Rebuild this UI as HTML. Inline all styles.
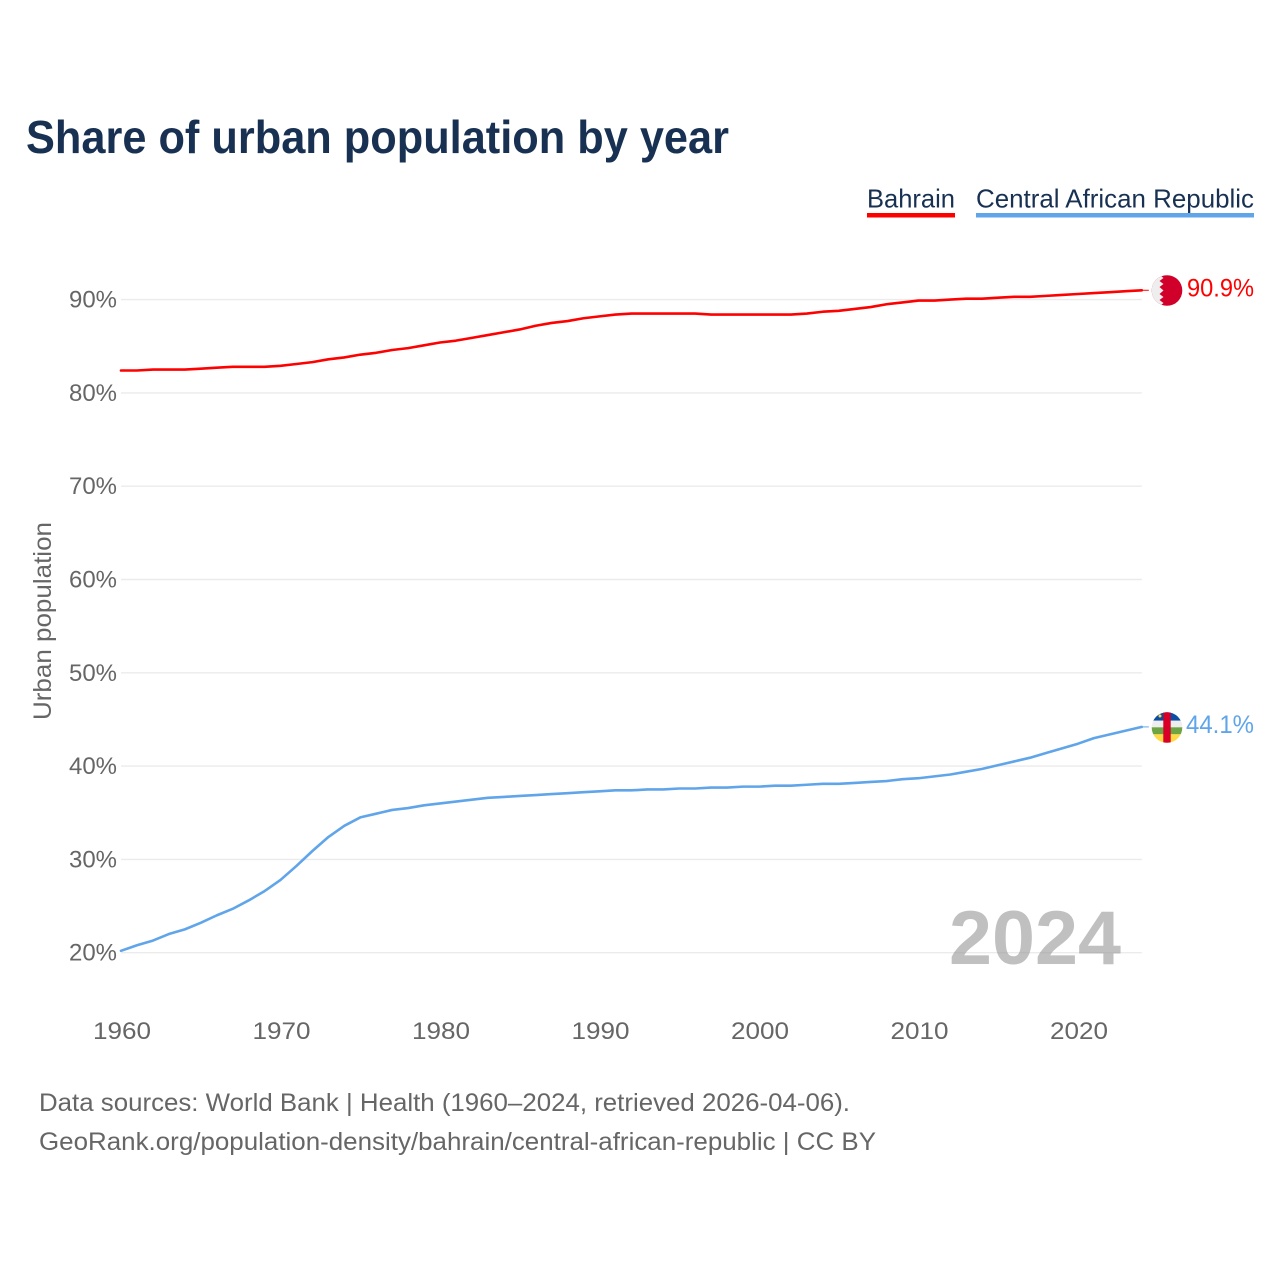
<!DOCTYPE html>
<html lang="en">
<head>
<meta charset="utf-8">
<title>Share of urban population by year</title>
<style>
html,body{margin:0;padding:0;background:#fff;width:1280px;height:1280px;overflow:hidden}
svg{display:block}
text{font-family:"Liberation Sans",sans-serif}
</style>
</head>
<body>
<svg id="chart" width="1280" height="1280" viewBox="0 0 1280 1280" xmlns="http://www.w3.org/2000/svg">
  <defs>
    <clipPath id="flag-clip-a"><circle cx="1167" cy="290.5" r="15.3"/></clipPath>
    <clipPath id="flag-clip-b"><circle cx="1167" cy="727.5" r="15.3"/></clipPath>
  </defs>
  <rect width="1280" height="1280" fill="#fff"/>
  <text x="26" y="153" font-size="46" font-weight="700" fill="#183153" textLength="703" lengthAdjust="spacingAndGlyphs">Share of urban population by year</text>

  <g>
    <text x="867" y="207.5" font-size="26" fill="#183153" textLength="88" lengthAdjust="spacingAndGlyphs">Bahrain</text>
    <rect x="867" y="213" width="88" height="4.5" fill="#ff0000"/>
  </g>
  <g>
    <text x="976" y="207.5" font-size="26" fill="#183153" textLength="278" lengthAdjust="spacingAndGlyphs">Central African Republic</text>
    <rect x="976" y="213" width="278" height="4.5" fill="#60a5ea"/>
  </g>

  <g id="grid"></g>
  <g id="y-ticks"></g>
  <g id="x-ticks"></g>
  <text transform="translate(51,621) rotate(-90)" text-anchor="middle" font-size="25" fill="#666" textLength="198" lengthAdjust="spacingAndGlyphs">Urban population</text>

  <text x="949" y="964" font-size="76" font-weight="700" fill="#999" fill-opacity="0.62" textLength="172" lengthAdjust="spacingAndGlyphs">2024</text>

  <g id="series"></g>

  <g clip-path="url(#flag-clip-a)">
    <rect x="1151" y="275" width="32" height="31" fill="#d0002a"/>
    <polygon points="1151,275 1160,275 1163.5,278 1159.5,281 1163.5,284 1159.5,287 1163.5,290.5 1159.5,294 1163.5,297 1159.5,300 1163.5,303 1160,306 1151,306" fill="#eeeeee"/>
  </g>
  <text id="label-a" x="1187" y="296.5" font-size="25" fill="#ff0000" textLength="67" lengthAdjust="spacingAndGlyphs">90.9%</text>

  <g clip-path="url(#flag-clip-b)">
    <rect x="1151" y="712" width="32" height="8.7" fill="#0b4ea2"/>
    <rect x="1151" y="720.7" width="32" height="6.6" fill="#eeeeee"/>
    <rect x="1151" y="727.3" width="32" height="7" fill="#6da544"/>
    <rect x="1151" y="734.3" width="32" height="9" fill="#ffda44"/>
    <rect x="1163.3" y="712" width="7.4" height="31" fill="#d80027"/>
    <circle cx="1160" cy="716" r="1.5" fill="#ffda44"/>
  </g>
  <text id="label-b" x="1186" y="733" font-size="25" fill="#60a5ea" textLength="68" lengthAdjust="spacingAndGlyphs">44.1%</text>

  <text x="39" y="1111" font-size="25" fill="#666" textLength="811" lengthAdjust="spacingAndGlyphs">Data sources: World Bank | Health (1960–2024, retrieved 2026-04-06).</text>
  <text x="39" y="1150" font-size="25" fill="#666" textLength="837" lengthAdjust="spacingAndGlyphs">GeoRank.org/population-density/bahrain/central-african-republic | CC BY</text>
</svg>
<script>
const startYear = 1960;
const bahrainValues = [82.4,82.4,82.5,82.5,82.5,82.6,82.7,82.8,82.8,82.8,82.9,83.1,83.3,83.6,83.8,84.1,84.3,84.6,84.8,85.1,85.4,85.6,85.9,86.2,86.5,86.8,87.2,87.5,87.7,88.0,88.2,88.4,88.5,88.5,88.5,88.5,88.5,88.4,88.4,88.4,88.4,88.4,88.4,88.5,88.7,88.8,89.0,89.2,89.5,89.7,89.9,89.9,90.0,90.1,90.1,90.2,90.3,90.3,90.4,90.5,90.6,90.7,90.8,90.9,91.0];
const carValues = [20.2,20.8,21.3,22.0,22.5,23.2,24.0,24.7,25.6,26.6,27.8,29.3,30.9,32.4,33.6,34.5,34.9,35.3,35.5,35.8,36.0,36.2,36.4,36.6,36.7,36.8,36.9,37.0,37.1,37.2,37.3,37.4,37.4,37.5,37.5,37.6,37.6,37.7,37.7,37.8,37.8,37.9,37.9,38.0,38.1,38.1,38.2,38.3,38.4,38.6,38.7,38.9,39.1,39.4,39.7,40.1,40.5,40.9,41.4,41.9,42.4,43.0,43.4,43.8,44.2];
const yTicks = [20,30,40,50,60,70,80,90];
const xTicks = [1960,1970,1980,1990,2000,2010,2020];

const NS = 'http://www.w3.org/2000/svg';
const xScale = yr => 121 + (yr - 1960) * 15.95;
const yScale = v => 952.7 - (v - 20) * 9.33;

function make(tag, attrs, parent, text) {
  const el = document.createElementNS(NS, tag);
  for (const k in attrs) el.setAttribute(k, attrs[k]);
  if (text !== undefined) el.textContent = text;
  parent.appendChild(el);
  return el;
}

const grid = document.getElementById('grid');
const yG = document.getElementById('y-ticks');
const xG = document.getElementById('x-ticks');
const seriesG = document.getElementById('series');

yTicks.forEach(t => {
  const line = make('line', {x1: xScale(1960), x2: xScale(2024), y1: yScale(t), y2: yScale(t), stroke: '#ebebeb', 'stroke-width': 1.4}, grid);
  
  
  const label = make('text', {x: 117, y: yScale(t) + 8, 'text-anchor': 'end', 'font-size': 24.5, fill: '#666', textLength: 48, lengthAdjust: 'spacingAndGlyphs'}, yG, t + '%');
  
  
});

xTicks.forEach(t => {
  const label = make('text', {x: xScale(t) + 1, y: 1039, 'text-anchor': 'middle', 'font-size': 24.5, fill: '#666', textLength: 58, lengthAdjust: 'spacingAndGlyphs'}, xG, String(t));
  
  
});

function drawSeries(values, color, name) {
  const pts = values.map((v, i) => xScale(startYear + i).toFixed(2) + ',' + yScale(v).toFixed(2));
  const line = make('polyline', {points: pts.join(' '), fill: 'none', stroke: color, 'stroke-width': 2.6, 'stroke-linejoin': 'round', 'stroke-linecap': 'round'}, seriesG);
  
  
  const lastX = xScale(startYear + values.length - 1);
  const lastY = yScale(values[values.length - 1]);
  const connector = make('line', {x1: lastX, x2: lastX + 7, y1: lastY, y2: lastY, stroke: color, 'stroke-width': 1}, seriesG);
  
  
}

drawSeries(bahrainValues, '#ff0000', 'line-bahrain');
drawSeries(carValues, '#60a5ea', 'line-central-african-republic');
</script>
</body>
</html>
